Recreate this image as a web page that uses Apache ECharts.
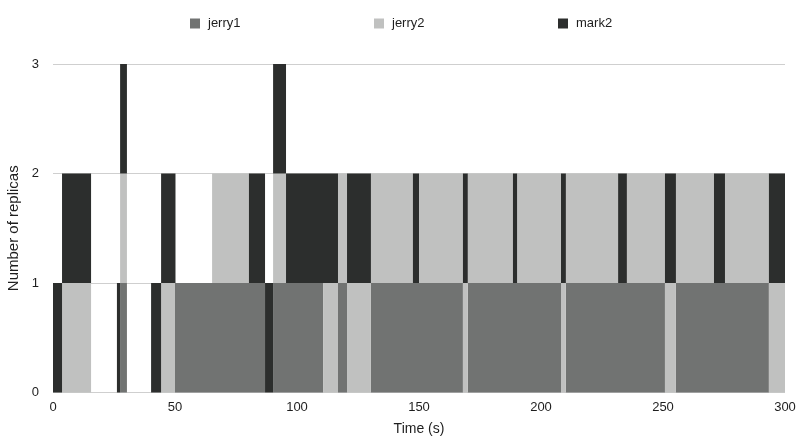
<!DOCTYPE html>
<html>
<head>
<meta charset="utf-8">
<script src="https://cdn.jsdelivr.net/npm/echarts@6/dist/echarts.min.js"></script>
<style>
  html, body { margin: 0; padding: 0; background: #fff; }
  #chart { width: 797px; height: 438px; }
</style>
</head>
<body>
<div id="chart"></div>
<script>
// Replica placement over time: each span is [start (s), end (s), slot],
// where slot 0 fills 0..1 replicas, slot 1 fills 1..2, slot 2 fills 2..3.
const hosts = ['jerry1', 'jerry2', 'mark2'];

const jerry1Spans = [
  [27.5, 30.3, 0], [50, 86.9, 0], [90.2, 110.7, 0], [116.8, 120.5, 0],
  [130.3, 168, 0], [170, 208.2, 0], [210.2, 250.8, 0], [255.3, 293.4, 0]
];

const jerry2Spans = [
  [3.7, 15.6, 0], [44.3, 50, 0], [110.7, 116.8, 0], [120.5, 130.3, 0],
  [168, 170, 0], [208.2, 210.2, 0], [250.8, 255.3, 0], [293.4, 300, 0],
  [27.5, 30.3, 1], [65.2, 80.3, 1], [90.2, 95.5, 1], [116.8, 120.5, 1],
  [130.3, 147.5, 1], [150, 168, 1], [170, 188.5, 1], [190.2, 208.2, 1],
  [210.2, 231.6, 1], [235.2, 250.8, 1], [255.3, 270.9, 1], [275.4, 293.4, 1]
];

const mark2Spans = [
  [0, 3.7, 0], [26.2, 27.5, 0], [40.2, 44.3, 0], [86.9, 90.2, 0],
  [3.7, 15.6, 1], [44.3, 50.2, 1], [80.3, 86.9, 1], [95.5, 116.8, 1],
  [120.5, 130.3, 1], [147.5, 150, 1], [168, 170, 1], [188.5, 190.2, 1],
  [208.2, 210.2, 1], [231.6, 235.2, 1], [250.8, 255.3, 1], [270.9, 275.4, 1],
  [293.4, 300, 1],
  [27.5, 30.3, 2], [90.2, 95.5, 2]
];

const timeTicks = { min: 0, max: 300, interval: 50 };
const replicaTicks = { min: 0, max: 3, interval: 1 };

const hostColors = { jerry1: '#717372', jerry2: '#c0c1c0', mark2: '#2c2e2d' };
const spansByHost = { jerry1: jerry1Spans, jerry2: jerry2Spans, mark2: mark2Spans };

function renderSpan(params, api) {
  const slot = api.value(2);
  const p0 = api.coord([api.value(0), slot]);
  const p1 = api.coord([api.value(1), slot + 1]);
  return {
    type: 'rect',
    shape: { x: p0[0], y: p1[1], width: p1[0] - p0[0], height: p0[1] - p1[1] },
    style: { fill: api.visual('color') }
  };
}

const font = '"Liberation Sans", Arial, Helvetica, sans-serif';
const textColor = '#1e1e1e';
const legendLefts = [185, 369, 553];

const chart = echarts.init(document.getElementById('chart'), null, { renderer: 'canvas' });
chart.setOption({
  animation: false,
  backgroundColor: '#ffffff',
  textStyle: { fontFamily: font },
  legend: hosts.map((h, i) => ({
    data: [h],
    left: legendLefts[i],
    top: 12,
    icon: 'rect',
    itemWidth: 10,
    itemHeight: 10,
    itemGap: 0,
    textStyle: { fontFamily: font, fontSize: 13, color: textColor, padding: [0, 0, 0, 3] }
  })),
  grid: { left: 53, right: 12, top: 64, bottom: 45.5, containLabel: false, outerBoundsMode: 'none' },
  xAxis: {
    type: 'value',
    min: timeTicks.min,
    max: timeTicks.max,
    interval: timeTicks.interval,
    name: 'Time (s)',
    nameLocation: 'middle',
    nameGap: 30,
    nameTextStyle: { fontFamily: font, fontSize: 14, color: textColor },
    axisLine: { show: false },
    axisTick: { show: false },
    splitLine: { show: false },
    axisLabel: { fontFamily: font, fontSize: 13, color: textColor, margin: 8 }
  },
  yAxis: {
    type: 'value',
    min: replicaTicks.min,
    max: replicaTicks.max,
    interval: replicaTicks.interval,
    name: 'Number of replicas',
    nameLocation: 'middle',
    nameGap: 32,
    nameTextStyle: { fontFamily: font, fontSize: 15, color: textColor },
    axisLine: { show: false },
    axisTick: { show: false },
    splitLine: { show: true, lineStyle: { color: '#cfcfcf', width: 1 } },
    axisLabel: { fontFamily: font, fontSize: 13, color: textColor, margin: 14 }
  },
  series: hosts.map(h => ({
    name: h,
    type: 'custom',
    renderItem: renderSpan,
    itemStyle: { color: hostColors[h] },
    encode: { x: [0, 1], y: 2 },
    data: spansByHost[h]
  }))
});
</script>
</body>
</html>
